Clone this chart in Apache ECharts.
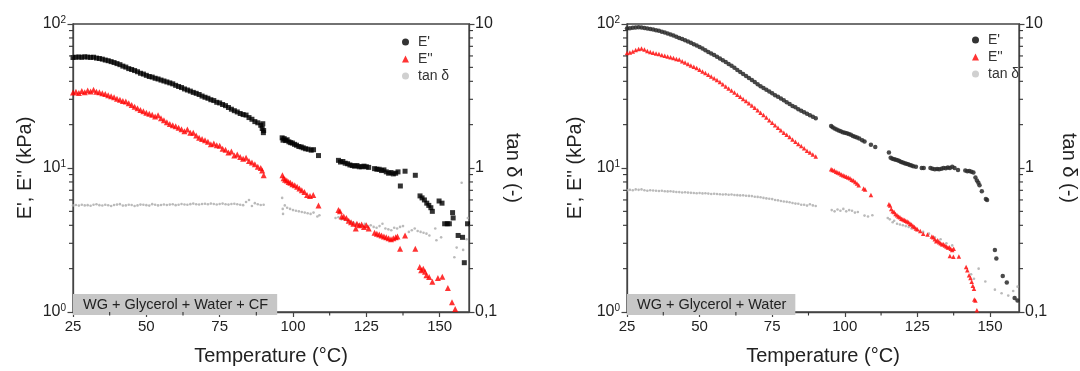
<!DOCTYPE html>
<html><head><meta charset="utf-8">
<script src="https://cdn.jsdelivr.net/npm/echarts@6/dist/echarts.min.js"></script>
<style>html,body{margin:0;padding:0;background:#fff}#c{width:1080px;height:371px}</style>
</head><body><div id="c"></div>
<script>
// ---- axis settings / tick labels ----
const X_MIN = 25, X_MAX = 160, X_STEP = 25;
const xTickValues = [25, 50, 75, 100, 125, 150];
const xMinorTickValues = [37.5, 62.5, 87.5, 112.5, 137.5];
const E_MIN = 1, E_MAX = 100;
const TAN_MIN = 0.1, TAN_MAX = 10;
const leftTickValues = [1, 10, 100];
const leftTickExponents = ['0', '1', '2'];
const rightTickValues = [0.1, 1, 10];
const rightTickLabels = ['0,1', '1', '10'];
const yMinorTickValues = [2, 3, 4, 5, 6, 7, 8, 9, 20, 30, 40, 50, 60, 70, 80, 90];
const sampleLabels = ['WG + Glycerol + Water + CF', 'WG + Glycerol + Water'];
const seriesNames = ["E'", "E''", 'tan δ'];

// ---- left panel: WG + Glycerol + Water + CF ----
const leftStorage = [
[25,58.5],[26,58.8],[27,59.0],[28,58.7],[29,59.2],[30,58.9],[31,58.6],[32,58.8],[33,58.0],[34,57.6],[35,57.0],[36,56.2],[37,55.6],[38,54.8],[39,54.0],[40,53.1],[41,52.2],[42,51.0],[43,50.2],[44,49.0],[45,48.3],[46,47.5],[47,46.6],[48,45.5],[49,44.9],[50,44.0],[51,43.2],[52,42.8],[53,42.0],[54,41.5],[55,40.8],[56,40.2],[57,39.6],[58,39.0],[59,38.4],[60,37.5],[61,36.8],[62,36.2],[63,35.4],[64,34.8],[65,34.2],[66,33.5],[67,33.0],[68,32.4],[69,31.6],[70,31.0],[71,30.5],[72,29.8],[73,29.4],[74,28.6],[75,28.3],[76,27.6],[77,27.1],[78,26.3],[79,25.6],[80,25.0],[81,24.5],[82,23.9],[83,23.5],[84,23.3],[85,22.4],[86,21.8],[87,21.0],[88,20.6],[89,19.8],[89.5,18.8],[89.7,20.3],[90,18.2],[89.9,17.6],
[96.3,16.2],[96.6,15.6],[97,16.0],[97.5,15.5],[98,15.7],[98.6,15.2],[99.2,15.0],[99.8,14.9],[100.5,14.6],[101.2,14.4],[102,14.1],[102.8,14.0],[103.5,13.8],[104.3,13.6],[105.2,13.5],[106.2,13.3],[107,13.4],[108.7,12.2],
[115.5,11.3],[116.2,11.0],[117,11.1],[117.8,10.8],[118.6,10.7],[119.4,10.5],[120.2,10.4],[121,10.3],[121.8,10.4],[122.6,10.2],[123.4,10.2],[124.2,10.3],[125,10.2],[125.8,10.1],[127.8,9.9],[128.6,9.8],[129.4,9.8],[130.2,9.6],[131,9.7],[131.8,9.4],[132.6,9.2],[133.4,9.3],[134.2,9.1],[135,9.2],[135.8,9.4],[136.6,7.5],[138.2,9.5],[141.7,8.9],
[143.3,6.4],[144,6.2],[144.8,6.0],[145.6,5.7],[146.3,5.5],[147,5.3],[147.5,5.0],[149.8,5.9],[150.8,5.7],[151.7,4.1],[152.6,4.1],[153.3,4.1],[154.4,4.9],[154.6,4.5],[156.3,3.4],[157.8,3.3],[158.4,2.2],[159.5,4.1]
];
const leftLoss = [
[25,33.5],[26,33.8],[27,33.2],[28,34.2],[29,33.6],[30,34.5],[31,34.0],[32,35.0],[33,33.8],[34,33.6],[35,33.0],[36,32.6],[37,32.0],[38,31.5],[39,31.0],[40,30.3],[41,29.8],[42,29.2],[43,29.0],[44,28.2],[45,27.4],[46,26.6],[47,26.0],[48,25.3],[49,24.8],[50,24.2],[51,23.8],[52,23.4],[53,22.8],[54,23.2],[55,22.2],[56,21.5],[57,20.8],[58,20.2],[59,19.8],[60,19.5],[61,19.0],[62,18.6],[63,18.0],[64,18.5],[65,17.6],[66,17.6],[67,16.8],[68,16.2],[69,15.9],[70,15.6],[71,15.2],[72,14.6],[73,14.8],[74,14.4],[75,14.3],[76,13.6],[77,13.4],[78,12.8],[79,13.0],[80,12.2],[81,12.4],[82,11.9],[83,11.6],[84,11.8],[85,11.2],[86,10.9],[87,10.6],[88,10.2],[89,10.0],[89.5,9.6],[90,8.9],
[96.4,8.9],[96.8,8.5],[97.3,8.3],[97.9,8.2],[98.5,8.0],[99.1,7.9],[99.8,7.7],[100.6,7.6],[101.4,7.4],[102.2,7.2],[103,7.0],[103.9,6.8],[104.8,6.5],[105.8,6.4],[106.9,6.5],[108.7,5.5],
[115.5,5.1],[116,5.0],[116.6,4.6],[117.3,4.6],[118.2,4.5],[119,4.3],[119.8,4.2],[120.6,4.1],[121.4,3.8],[121.8,4.1],[122.6,4.0],[123.4,4.05],[124.2,3.9],[125,4.0],[125.8,3.8],[127.8,3.55],[128.6,3.5],[129.4,3.45],[130.2,3.4],[131,3.35],[131.8,3.3],[132.6,3.25],[133.4,3.2],[134.2,3.25],[135,3.3],[135.6,3.35],[136.5,2.75],[138.2,3.4],[141.7,2.75],
[143.2,2.05],[143.7,1.95],[144.4,2.0],[145,1.9],[145.5,1.8],[146.4,1.75],[147.5,1.62],[149.4,1.72],[150.9,1.76],[152.8,1.47],[154.2,1.17],[155.3,1.05]
];
const leftTan = [
[25,0.55],[26,0.553],[27,0.548],[28,0.556],[29,0.55],[30,0.552],[31,0.547],[32,0.555],[33,0.56],[34,0.552],[35,0.549],[36,0.556],[37,0.551],[38,0.545],[39,0.553],[40,0.557],[41,0.561],[42,0.548],[43,0.55],[44,0.556],[45,0.553],[46,0.544],[47,0.55],[48,0.557],[49,0.555],[50,0.552],[51,0.548],[52,0.561],[53,0.556],[54,0.55],[55,0.553],[56,0.558],[57,0.554],[58,0.557],[59,0.56],[60,0.552],[61,0.556],[62,0.562],[63,0.558],[64,0.555],[65,0.561],[66,0.566],[67,0.56],[68,0.558],[69,0.563],[70,0.565],[71,0.56],[72,0.566],[73,0.562],[74,0.558],[75,0.563],[76,0.566],[77,0.56],[78,0.557],[79,0.562],[80,0.565],[81,0.56],[82,0.556],[83,0.552],[84,0.58],[85,0.6],[86,0.545],[87,0.57],[88,0.56],[89,0.553],[90,0.555],
[96.3,0.62],[96.5,0.52],[96.6,0.48],[97.2,0.55],[98,0.53],[99,0.52],[100,0.51],[101,0.505],[102,0.5],[103,0.495],[104,0.49],[105,0.485],[106,0.48],[107,0.49],[108.3,0.46],[109,0.47],
[114.5,0.45],[115.5,0.455],[116.5,0.44],[117.5,0.44],[118.5,0.43],[119.5,0.425],[120.5,0.42],[121.5,0.41],[122.5,0.405],[123.5,0.4],[124.5,0.41],[125.5,0.395],[126.5,0.4],[127.5,0.39],[128.5,0.385],[129.5,0.395],[130.5,0.41],[131.5,0.38],[132.5,0.375],[133.5,0.37],[134.5,0.385],[135.5,0.38],[136.5,0.39],[137.5,0.395],[139.5,0.36],[140.5,0.37],[141.5,0.38],[142.5,0.365],[143.5,0.36],[144.5,0.355],[145.5,0.35],[146.5,0.34],[148.5,0.38],[148.9,0.315],[150.5,0.33],[155,0.24],[155.8,0.28],[157.5,0.79],[158,0.27],[159.2,0.32],[159.6,0.45]
];

// ---- right panel: WG + Glycerol + Water ----
const rightStorage = [
[25,93],[26,93.5],[27,94.2],[28,94.5],[29,95],[30,94.5],[31,93.8],[32,93],[33,92.2],[34,91.5],[35,90.5],[36,89.6],[37,88.5],[38,87.4],[39,86],[40,84.5],[41,83.2],[42,81.5],[43,80],[44,78.6],[45,77],[46,75.6],[47,74],[48,72.4],[49,71],[50,69.2],[51,67.6],[52,65.8],[53,64],[54,62.4],[55,60.8],[56,59.2],[57,57.5],[58,56],[59,54.4],[60,52.8],[61,51.2],[62,49.6],[63,48],[64,46.5],[65,45],[66,43.5],[67,42.2],[68,40.8],[69,39.5],[70,38.2],[71,37],[72,36],[73,35],[74,34],[75,33],[76,32],[77,31.2],[78,30.4],[79,29.5],[80,28.6],[81,27.8],[82,27],[83,26.4],[84,25.6],[85,25],[86,24.4],[87,23.8],[88,23.2],[89,22.7],[90,22.2],
[95.3,19.6],[95.8,19.2],[96.5,18.8],[97.2,18.5],[97.9,18.2],[98.6,18.0],[99.3,17.7],[100,17.6],[100.7,17.4],[101.4,17.2],[102.1,17.0],[102.8,16.7],[103.5,16.5],[104.2,16.3],[105,16.0],[106,15.6],[106.8,15.3],[109,14.5],[110.5,14.0],
[115.2,12.8],[115.8,11.8],[116.4,11.6],[117,11.5],[117.6,11.4],[118.2,11.3],[118.8,11.2],[119.4,11.0],[120,10.9],[120.6,10.8],[121.2,10.7],[121.8,10.6],[122.4,10.5],[123,10.4],[123.6,10.3],[124.5,10.2],[126.5,10.0],[127.2,10.0],[129.5,10.0],[130.2,9.9],[131,9.8],[131.8,9.85],[132.5,9.8],[133.3,9.9],[134,10.0],[134.8,9.95],[135.5,10.1],[136.2,10.0],[137,10.2],[137.8,10.0],[139,9.7],[141.5,9.6],[142.2,9.5],[142.9,9.55],[143.6,9.4],[144.3,9.3],[145,8.6],[145.5,8.2],[146,7.9],[146.4,7.6],[147.2,6.9],[148.6,6.1],[149,6.0],
[151.7,2.7],[152.2,2.35],[154.4,1.78],[155.8,1.6],[158.5,1.25],[159.5,1.2]
];
const rightLoss = [
[25,63],[26,63.5],[27,64.5],[28,66],[29,67],[30,67.5],[31,66.5],[32,65],[33,64],[34,63.2],[35,62.5],[36,61.8],[37,61],[38,60.2],[39,59.5],[40,58.8],[41,58],[42,57.2],[43,56.6],[44,55.2],[45,54],[46,52.8],[47,51.6],[48,50.5],[49,49.5],[50,48.2],[51,46.8],[52,45.6],[53,44.4],[54,43.2],[55,42],[56,40.8],[57,39.5],[58,38.2],[59,36.8],[60,35.6],[61,34.5],[62,33.4],[63,32.3],[64,31.2],[65,30.2],[66,29.2],[67,28.2],[68,27.2],[69,26.2],[70,25.2],[71,24.2],[72,23.3],[73,22.4],[74,21.5],[75,20.6],[76,19.8],[77,19.0],[78,18.3],[79,17.6],[80,17.0],[81,16.4],[82,15.8],[83,15.2],[84,14.7],[85,14.2],[86,13.7],[87,13.2],[88,12.8],[89,12.4],[90,12.0],
[95.3,9.8],[95.8,9.7],[96.4,9.6],[97,9.4],[97.6,9.3],[98.2,9.2],[98.8,9.0],[99.4,8.9],[100,8.8],[100.6,8.7],[101.2,8.6],[101.8,8.5],[102.4,8.3],[103,8.2],[103.6,8.0],[104.2,7.8],[104.8,7.6],[106.5,7.2],[107,7.1],[109,6.5],
[115.2,5.6],[115.6,5.5],[116,5.2],[116.5,5.0],[117,4.95],[117.5,4.8],[118,4.7],[118.5,4.6],[119,4.55],[119.5,4.45],[120,4.4],[120.5,4.35],[121,4.3],[121.5,4.25],[122,4.2],[122.5,4.1],[123,4.05],[123.5,3.95],[124,3.9],[124.5,3.8],[125,3.75],[126,3.65],[127,3.5],[128.5,3.45],[130,3.35],[130.5,3.3],[131,3.2],[131.5,3.1],[132,3.15],[132.5,3.05],[133,3.0],[133.5,2.95],[134,2.95],[134.5,2.9],[135,2.85],[135.5,2.8],[136,2.82],[136.5,2.75],[137,2.7],[137.5,2.75],[136.2,2.45],[137.4,2.42],[139.3,2.43],[141.8,2.05],[142.2,1.95],[142.8,1.8],[143.3,1.72],[143.7,1.62],[144.1,1.52],[144.5,1.45],[144.6,1.22],[145,1.2],[145.5,1.03]
];
const rightTan = [
[25,0.70],[26,0.705],[27,0.7],[28,0.71],[29,0.705],[30,0.71],[31,0.7],[32,0.695],[33,0.7],[34,0.698],[35,0.695],[36,0.692],[37,0.695],[38,0.69],[39,0.688],[40,0.69],[41,0.685],[42,0.682],[43,0.68],[44,0.676],[45,0.678],[46,0.675],[47,0.672],[48,0.67],[49,0.668],[50,0.67],[51,0.666],[52,0.668],[53,0.664],[54,0.66],[55,0.662],[56,0.66],[57,0.657],[58,0.655],[59,0.656],[60,0.652],[61,0.654],[62,0.65],[63,0.648],[64,0.645],[65,0.646],[66,0.642],[67,0.64],[68,0.638],[69,0.632],[70,0.63],[71,0.626],[72,0.62],[73,0.615],[74,0.612],[75,0.608],[76,0.6],[77,0.596],[78,0.59],[79,0.585],[80,0.582],[81,0.578],[82,0.572],[83,0.566],[84,0.565],[85,0.555],[86,0.555],[87,0.548],[88,0.56],[89,0.55],[90,0.545],
[95.5,0.51],[96.5,0.5],[97.5,0.515],[98.5,0.505],[99.5,0.52],[100.5,0.5],[101.5,0.51],[102.5,0.505],[103.5,0.49],[104.5,0.495],[106.8,0.467],[108,0.46],[109.5,0.47],
[114.8,0.45],[115.5,0.44],[116.5,0.42],[117,0.43],[118,0.41],[119,0.405],[120,0.4],[121,0.395],[122,0.39],[123,0.38],[124,0.385],[125,0.37],[127,0.36],[129,0.35],[131,0.33],[133,0.32],[135,0.3],[137,0.29],
[143.5,0.183],[144.5,0.17],[146.1,0.2],[148.4,0.163],[151.7,0.143],[154,0.135],[156.3,0.13],[158,0.14],[159.5,0.15]
];

// ---- chart ----
const FONT = 'Liberation Sans, Arial, sans-serif';
const AX = '#444';
const chart = echarts.init(document.getElementById('c'));

function xAxisFor(gi) {
  return {
    gridIndex: gi, type: 'value', min: X_MIN, max: X_MAX, interval: X_STEP,
    axisLine: { show: true, onZero: false, lineStyle: { color: AX, width: 1.3 } },
    axisTick: { show: true, length: 5, lineStyle: { color: AX, width: 1.2 }, customValues: xTickValues },
    axisLabel: { fontSize: 15, color: '#222', margin: 7, customValues: xTickValues },
    splitLine: { show: false },
    name: 'Temperature (°C)', nameLocation: 'middle', nameGap: 34,
    nameTextStyle: { fontSize: 20, color: '#222' }
  };
}
function leftYFor(gi, gap) {
  return {
    gridIndex: gi, type: 'log', logBase: 10, min: E_MIN, max: E_MAX, position: 'left',
    axisLine: { show: true, onZero: false, lineStyle: { color: AX, width: 1.3 } },
    axisTick: { show: true, length: 5.5, lineStyle: { color: AX, width: 1.2 } },
    axisLabel: {
      color: '#222', margin: 7,
      formatter: v => {
        let k = 0, best = Infinity;
        leftTickValues.forEach((t, i) => { const d = Math.abs(Math.log10(t) - Math.log10(v)); if (d < best) { best = d; k = i; } });
        return '{b|10}{s|' + leftTickExponents[k] + '}';
      },
      rich: { b: { fontSize: 16, color: '#222', lineHeight: 18 }, s: { fontSize: 10, color: '#222', verticalAlign: 'top', lineHeight: 10 } }
    },
    splitLine: { show: false },
    name: "E', E'' (kPa)", nameLocation: 'middle', nameRotate: 90, nameGap: gap,
    nameTextStyle: { fontSize: 20, color: '#222' }
  };
}
function rightYFor(gi, gap) {
  return {
    gridIndex: gi, type: 'log', logBase: 10, min: TAN_MIN, max: TAN_MAX, position: 'right',
    axisLine: { show: true, onZero: false, lineStyle: { color: AX, width: 1.3 } },
    axisTick: { show: true, length: 5.5, lineStyle: { color: AX, width: 1.2 } },
    axisLabel: {
      fontSize: 16, color: '#222', margin: 6,
      formatter: v => {
        let k = 0, best = Infinity;
        rightTickValues.forEach((t, i) => { const d = Math.abs(Math.log10(t) - Math.log10(v)); if (d < best) { best = d; k = i; } });
        return rightTickLabels[k];
      }
    },
    splitLine: { show: false },
    name: 'tan δ (-)', nameLocation: 'middle', nameRotate: -90, nameGap: gap,
    nameTextStyle: { fontSize: 20, color: '#222' }
  };
}
function tickSeries(xi, yi) {
  const data = yMinorTickValues.map(v => [X_MIN, v, 0]).concat(xMinorTickValues.map(t => [t, E_MIN, 1]));
  return {
    type: 'custom', xAxisIndex: xi, yAxisIndex: yi, data: data, silent: true, z: 6, clip: false,
    encode: { x: 0, y: 1 },
    renderItem: (params, api) => {
      const kind = api.value(2);
      const st = { stroke: '#333', lineWidth: 1.1 };
      if (kind === 0) {
        const v = api.value(1);
        const pl = api.coord([X_MIN, v]);
        const pr = api.coord([X_MAX, v]);
        return { type: 'group', children: [
          { type: 'line', shape: { x1: pl[0] - 4, y1: pl[1], x2: pl[0], y2: pl[1] }, style: st },
          { type: 'line', shape: { x1: pr[0], y1: pr[1], x2: pr[0] + 4, y2: pr[1] }, style: st }
        ] };
      }
      const p = api.coord([api.value(0), E_MIN]);
      return { type: 'line', shape: { x1: p[0], y1: p[1], x2: p[0], y2: p[1] + 3.5 }, style: st };
    }
  };
}
function legendFor(left, top) {
  return {
    orient: 'vertical', left: left, top: top, itemWidth: 7, itemHeight: 7, itemGap: 3,
    selectedMode: false,
    textStyle: { fontSize: 14, color: '#333', padding: [0, 0, 0, 4] },
    data: [
      { name: seriesNames[0], icon: 'circle' },
      { name: seriesNames[1], icon: 'triangle' },
      { name: seriesNames[2], icon: 'circle', itemStyle: { color: '#c4c4c4' } }
    ]
  };
}
function boxFor(text, left) {
  return {
    text: text, left: left, top: 294, backgroundColor: '#c6c6c6', padding: [3, 9, 3, 10],
    textStyle: { fontSize: 14.5, fontWeight: 'normal', color: '#222', fontFamily: FONT }
  };
}

chart.setOption({
  animation: false,
  backgroundColor: '#fff',
  textStyle: { fontFamily: FONT },
  title: [boxFor(sampleLabels[0], 73), boxFor(sampleLabels[1], 627)],
  legend: [legendFor(397, 30), legendFor(967, 28)],
  grid: [
    { left: 73, top: 24, width: 396, height: 292, show: true, borderColor: AX, borderWidth: 1.3, backgroundColor: '#fff' },
    { left: 627, top: 24, width: 397, height: 292, show: true, borderColor: AX, borderWidth: 1.3, backgroundColor: '#fff' }
  ],
  xAxis: [xAxisFor(0), xAxisFor(1)],
  yAxis: [leftYFor(0, 38), rightYFor(0, 34), leftYFor(1, 42), rightYFor(1, 40)],
  series: [
    { type: 'scatter', name: seriesNames[2], xAxisIndex: 0, yAxisIndex: 1, data: leftTan, symbol: 'circle', symbolSize: 2.6, itemStyle: { color: '#a9a9a9' }, z: 2 },
    { type: 'scatter', name: seriesNames[0], xAxisIndex: 0, yAxisIndex: 0, data: leftStorage, symbol: 'rect', symbolSize: 5, itemStyle: { color: '#000' }, z: 3 },
    { type: 'scatter', name: seriesNames[1], xAxisIndex: 0, yAxisIndex: 0, data: leftLoss, symbol: 'triangle', symbolSize: 6, itemStyle: { color: '#ff0000' }, z: 4 },
    { type: 'scatter', name: seriesNames[2], xAxisIndex: 1, yAxisIndex: 3, data: rightTan, symbol: 'circle', symbolSize: 2.6, itemStyle: { color: '#a9a9a9' }, z: 2 },
    { type: 'scatter', name: seriesNames[0], xAxisIndex: 1, yAxisIndex: 2, data: rightStorage, symbol: 'circle', symbolSize: 4.5, itemStyle: { color: '#2a2a2a', opacity: 0.85 }, z: 3 },
    { type: 'scatter', name: seriesNames[1], xAxisIndex: 1, yAxisIndex: 2, data: rightLoss, symbol: 'triangle', symbolSize: 4.5, itemStyle: { color: '#ff1a1a', opacity: 0.9 }, z: 4 },
    tickSeries(0, 0),
    tickSeries(1, 2)
  ]
});
</script>
</body></html>
